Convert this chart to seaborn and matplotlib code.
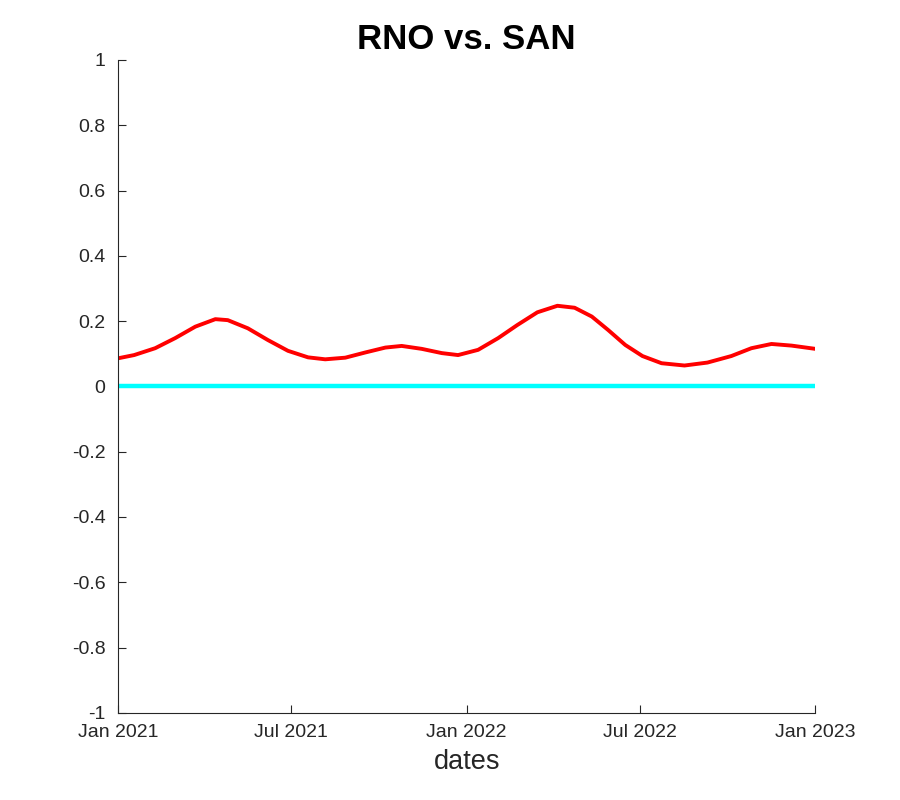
import matplotlib
matplotlib.use("Agg")
import matplotlib.pyplot as plt
import matplotlib.dates as mdates
import pandas as pd
import seaborn as sns

# values
dates = [
    "2021-01-01", "2021-01-18", "2021-02-09", "2021-03-02", "2021-03-23",
    "2021-04-13", "2021-04-26", "2021-05-17", "2021-06-07", "2021-06-28",
    "2021-07-19", "2021-08-06", "2021-08-27", "2021-09-17", "2021-10-08",
    "2021-10-25", "2021-11-15", "2021-12-06", "2021-12-23", "2022-01-13",
    "2022-02-03", "2022-02-23", "2022-03-16", "2022-04-06", "2022-04-24",
    "2022-05-12", "2022-05-29", "2022-06-16", "2022-07-04", "2022-07-24",
    "2022-08-17", "2022-09-10", "2022-10-05", "2022-10-26", "2022-11-16",
    "2022-12-07", "2023-01-01",
]
rno_san = [
    0.086, 0.096, 0.117, 0.148, 0.183,
    0.206, 0.203, 0.178, 0.142, 0.109,
    0.089, 0.083, 0.088, 0.104, 0.119,
    0.124, 0.115, 0.102, 0.096, 0.112,
    0.148, 0.188, 0.227, 0.247, 0.241,
    0.214, 0.173, 0.127, 0.093, 0.071,
    0.064, 0.073, 0.093, 0.117, 0.130,
    0.125, 0.115,
]
baseline_dates = ["2021-01-01", "2023-01-01"]
baseline = [0.0, 0.0]
y_ticks = [-1, -0.8, -0.6, -0.4, -0.2, 0, 0.2, 0.4, 0.6, 0.8, 1]
y_labels = ["-1", "-0.8", "-0.6", "-0.4", "-0.2", "0", "0.2", "0.4", "0.6", "0.8", "1"]
x_ticks = ["2021-01-01", "2021-07-01", "2022-01-01", "2022-07-01", "2023-01-01"]

df = pd.DataFrame({"date": pd.to_datetime(dates), "value": rno_san})
base = pd.DataFrame({"date": pd.to_datetime(baseline_dates), "value": baseline})

sns.set_style("white")
plt.rcParams["font.family"] = ["Liberation Sans", "DejaVu Sans"]
plt.rcParams["axes.unicode_minus"] = False

fig = plt.figure(figsize=(9, 8), dpi=100)
ax = fig.add_axes([0.131, 0.109, 0.775, 0.816])

sns.lineplot(data=df, x="date", y="value", color="#ff0000", linewidth=2.8, ax=ax)
sns.lineplot(data=base, x="date", y="value", color="#00ffff", linewidth=3.2, ax=ax)

ax.set_xlim(pd.Timestamp("2021-01-01"), pd.Timestamp("2023-01-01"))
ax.set_ylim(-1, 1)
ax.set_yticks(y_ticks)
ax.set_yticklabels(y_labels)
ax.set_xticks(pd.to_datetime(x_ticks))
ax.xaxis.set_major_formatter(mdates.DateFormatter("%b %Y"))

ax.tick_params(bottom=True, left=True, direction="in", length=6, width=0.8,
               colors="#262626", labelsize=14)
ax.tick_params(axis="x", pad=8)
ax.tick_params(axis="y", pad=9)
for s in ["top", "right"]:
    ax.spines[s].set_visible(False)
for s in ["left", "bottom"]:
    ax.spines[s].set_color("#262626")
    ax.spines[s].set_linewidth(0.8)

ax.set_title("RNO vs. SAN", fontsize=25, fontweight="bold", color="black", pad=8)
ax.set_xlabel("dates", fontsize=19.5, color="#262626", labelpad=6)
ax.set_ylabel("")

fig.savefig("out.png", dpi=100)
